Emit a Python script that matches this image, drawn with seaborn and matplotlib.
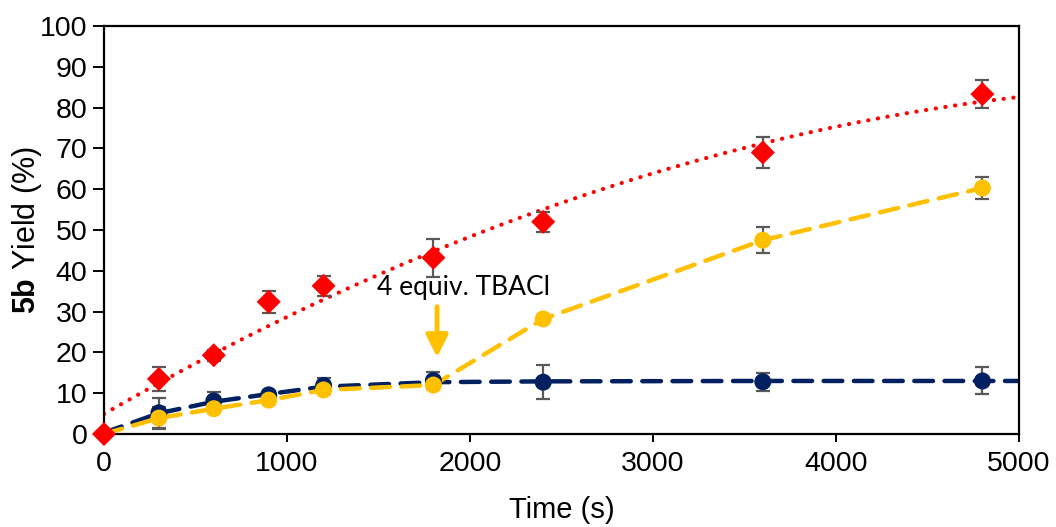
import numpy as np
import pandas as pd
import matplotlib
matplotlib.use("Agg")
import matplotlib.pyplot as plt
import seaborn as sns

# ---- data ----
time_s = [0, 300, 600, 900, 1200, 1800, 2400, 3600, 4800]
red_yield = [0, 13.5, 19.3, 32.4, 36.3, 43.2, 52.0, 69.0, 83.3]
red_err = [0, 2.9, 1.3, 2.7, 2.5, 4.6, 2.5, 3.7, 3.5]
navy_yield = [0, 5.2, 8.1, 9.6, 11.9, 13.1, 12.7, 12.8, 13.0]
navy_err = [0, 3.7, 2.3, 1.0, 1.9, 2.0, 4.2, 2.2, 3.3]
yellow_yield = [0, 3.9, 6.2, 8.3, 10.8, 12.0, 28.2, 47.5, 60.3]
yellow_err = [0, 2.6, 0.8, 1.0, 1.0, 1.0, 0.8, 3.2, 2.8]

# navy trend line
navy_fit_x = [0, 300, 600, 900, 1200, 1800, 2400, 3600, 4800, 5000]
navy_fit_y = [0.3, 5.1, 7.9, 9.8, 11.6, 12.7, 12.9, 13.0, 13.0, 13.0]

xticks = [0, 1000, 2000, 3000, 4000, 5000]
yticks = list(range(0, 101, 10))
annot_text = "4 equiv. TBACl"

RED = "#FF0000"
NAVY = "#002060"
YELLOW = "#FFC000"
ERR = "#595959"

sns.set_style("white")
plt.rcParams["font.family"] = ["Liberation Sans", "DejaVu Sans"]
plt.rcParams["mathtext.fontset"] = "custom"
plt.rcParams["mathtext.bf"] = "Liberation Sans:bold"
plt.rcParams["mathtext.rm"] = "Liberation Sans"
plt.rcParams["text.color"] = "black"
plt.rcParams["axes.labelcolor"] = "black"

fig = plt.figure(figsize=(10.56, 5.27), dpi=100)
ax = fig.add_axes([104 / 1056, 1 - 434 / 527, (1019 - 104) / 1056, (434 - 26) / 527])
ax.set_xlim(0, 5000)
ax.set_ylim(0, 100)

df = pd.DataFrame({"t": time_s, "red": red_yield, "navy": navy_yield, "yellow": yellow_yield})

# red quadratic trendline
sns.regplot(data=df, x="t", y="red", order=2, ci=None, scatter=False, truncate=False, ax=ax,
            line_kws=dict(color=RED, lw=3, linestyle=(0, (0.05, 2.3)), dash_capstyle="round",
                          solid_capstyle="round", zorder=2))

# navy dashed trend
ax.plot(navy_fit_x, navy_fit_y, color=NAVY, lw=3.2, linestyle=(0, (4.2, 2.6)),
        dash_capstyle="round", zorder=2)
# yellow dashed line through points
ax.plot(time_s, yellow_yield, color=YELLOW, lw=3.2, linestyle=(0, (4.2, 2.6)),
        dash_capstyle="round", zorder=3)

# error bars
for yv, ev in [(navy_yield, navy_err), (yellow_yield, yellow_err), (red_yield, red_err)]:
    ax.errorbar(time_s, yv, yerr=ev, fmt="none", ecolor=ERR, elinewidth=1.6, capsize=5,
                capthick=1.6, zorder=3.5)

sns.scatterplot(data=df, x="t", y="navy", color=NAVY, marker="o", s=150, edgecolor="none",
                ax=ax, zorder=4)
sns.scatterplot(data=df, x="t", y="yellow", color=YELLOW, marker="o", s=150, edgecolor="none",
                ax=ax, zorder=5)
sns.scatterplot(data=df, x="t", y="red", color=RED, marker="D", s=150, edgecolor="none",
                ax=ax, zorder=6, clip_on=False)

ax.annotate("", xy=(1820, 18.8), xytext=(1820, 31.2),
            arrowprops=dict(arrowstyle="-|>,head_length=0.6,head_width=0.3", color=YELLOW,
                            lw=3.5, shrinkA=0, shrinkB=0, mutation_scale=22))
ax.text(1967, 35.8, annot_text, ha="center", va="center", fontsize=19,
        family=["Lato", "DejaVu Sans"], color="#000000")

ax.set_xticks(xticks)
ax.set_yticks(yticks)
ax.tick_params(axis="both", labelsize=20.5, colors="black", direction="out",
               width=1.4, left=True, bottom=True)
ax.tick_params(axis="x", length=6, pad=6)
ax.tick_params(axis="y", length=8, pad=4)
for sp in ax.spines.values():
    sp.set_visible(True)
    sp.set_color("black")
    sp.set_linewidth(1.6)

ax.set_xlabel("Time (s)", fontsize=21, labelpad=14, color="black")
ax.set_ylabel(r"$\bf{5b}$ Yield (%)", fontsize=22, labelpad=-3, color="black")
ax.grid(False)

fig.savefig("out.png", dpi=100)
